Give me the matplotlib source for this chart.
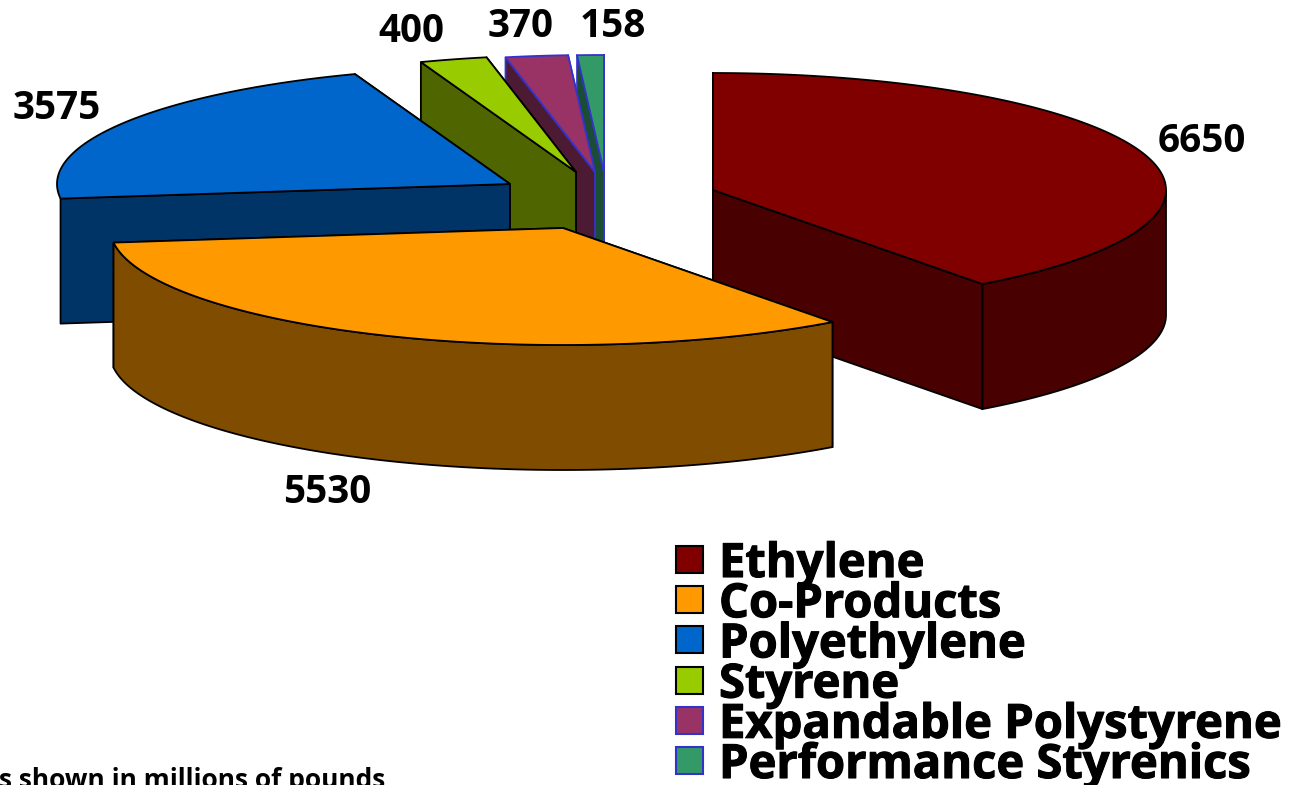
import numpy as np
import matplotlib
matplotlib.use('Agg')
import matplotlib.pyplot as plt
import matplotlib.patheffects as pe
from matplotlib.patches import Polygon, Rectangle

names = ['Ethylene', 'Co-Products', 'Polyethylene', 'Styrene',
         'Expandable Polystyrene', 'Performance Styrenics']
values = [6650, 5530, 3575, 400, 370, 158]
top_colors = ['#800000', '#FF9900', '#0066CC', '#99CC00', '#993366', '#339966']
side_colors = ['#480000', '#804D00', '#003366', '#4F6600', '#4D1A33', '#1A4D33']
edge_colors = ['#000000', '#000000', '#000000', '#000000', '#3333CC', '#3333CC']

# exploded slice apexes and label baselines, in pixels
apexes = [(713, 190), (563, 228), (510, 184), (576, 172), (595, 172), (604, 172)]
label_xy = [(1202, 152), (327, 503), (57, 119), (411, 42), (521, 37), (613, 37)]

RX, RY = 453, 117   # ellipse of the tilted pie
DEPTH = 125
FONT = 'Open Sans'


def point(apex, deg):
    # angle runs clockwise from 12 o'clock
    a = np.radians(deg)
    return apex[0] + RX * np.sin(a), apex[1] - RY * np.cos(a)


def arc(apex, start, end):
    degs = np.linspace(start, end, max(int((end - start) * 2), 2))
    return [point(apex, d) for d in degs]


def drop(pts):
    return [(x, y + DEPTH) for x, y in pts]


def draw_slice(ax, apex, start, end, top, side, edge):
    # radial walls first, far one before near one
    for deg in (end, start):
        p = point(apex, deg)
        wall = [apex, p, (p[0], p[1] + DEPTH), (apex[0], apex[1] + DEPTH)]
        ax.add_patch(Polygon(wall, fc=side, ec=edge, lw=1.3, joinstyle='round'))
    # outer wall only where the rim really faces the viewer
    lo, hi = max(start, 90), min(end, 270)
    if hi - lo > 10:
        rim = arc(apex, lo, hi)
        ax.add_patch(Polygon(rim + drop(rim)[::-1], fc=side, ec=edge, lw=1.3))
    ax.add_patch(Polygon([apex] + arc(apex, start, end), fc=top, ec=edge, lw=1.3))


fig = plt.figure(figsize=(12.89, 7.85), dpi=100)
ax = fig.add_axes([0, 0, 1, 1])
ax.set_xlim(0, 1289)
ax.set_ylim(785, 0)
ax.axis('off')

edges = np.concatenate([[0], np.cumsum(values)]) / sum(values) * 360

# back slices first so the big front ones overlap them
for i in [5, 4, 3, 2, 0, 1]:
    draw_slice(ax, apexes[i], edges[i], edges[i + 1],
               top_colors[i], side_colors[i], edge_colors[i])

for v, (x, y) in zip(values, label_xy):
    ax.text(x, y, str(v), ha='center', va='baseline', family=FONT,
            fontweight='bold', fontsize=27.8, color='black')

# legend, with a thin stroke to make the bold heavier
heavy = [pe.withStroke(linewidth=0.8, foreground='black')]
for i, name in enumerate(names):
    y = 560 + i * 40.2
    ax.add_patch(Rectangle((676, y - 14), 27, 27, fc=top_colors[i],
                           ec=edge_colors[i], lw=1.5))
    ax.text(719, y + 17, name, ha='left', va='baseline', family=FONT,
            fontweight='bold', fontsize=33.9, color='black', path_effects=heavy)

ax.text(-1, 788, 's shown in millions of pounds', ha='left', va='baseline',
        family=FONT, fontweight='bold', fontsize=19, color='black', clip_on=False)

fig.savefig('out.png', dpi=100)
